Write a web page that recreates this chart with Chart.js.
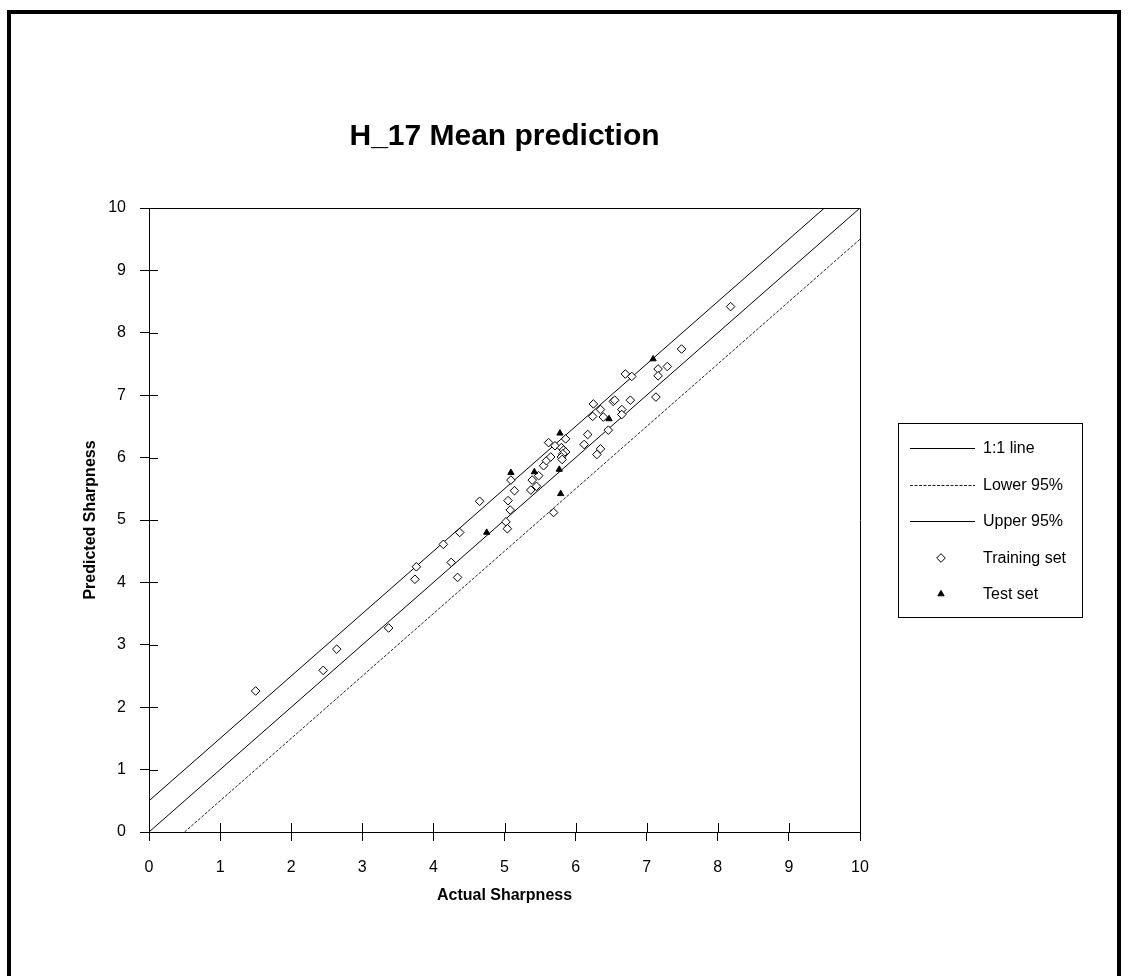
<!DOCTYPE html>
<html><head><meta charset="utf-8">
<script src="https://cdn.jsdelivr.net/npm/chart.js@4/dist/chart.umd.min.js"></script>
<style>
html,body{margin:0;padding:0;background:#fff;width:1128px;height:976px;overflow:hidden}
#frame{position:absolute;left:7px;top:10px;width:1106px;height:990px;border:4px solid #000;border-bottom:none;box-sizing:content-box}
canvas{position:absolute;left:0;top:0}
</style></head><body>
<div id="frame"></div>
<canvas id="c" width="1128" height="976"></canvas>
<script>
// ---- data ----
const chartTitle = 'H_17 Mean prediction';
const xTitle = 'Actual Sharpness';
const yTitle = 'Predicted Sharpness';
const seriesNames = ['1:1 line', 'Lower 95%', 'Upper 95%', 'Training set', 'Test set'];
const axisMin = 0, axisMax = 10, axisStep = 1;

const diagX = [0, 10],   diagY = [0, 10];
const lowerX = [0.5, 10], lowerY = [0, 9.5];
const upperX = [0, 9.5], upperY = [0.5, 10];

const trainX = [1.50,2.45,2.64,3.37,3.74,3.76,4.14,4.25,4.34,4.37,4.65,5.02,5.04,5.05,5.08,5.09,5.14,5.37,5.39,5.45,5.48,5.55,5.59,5.65,5.62,5.71,5.69,5.80,5.83,5.86,5.82,5.80,5.81,5.86,6.12,6.17,6.24,6.25,6.30,6.35,6.35,6.39,6.46,6.53,6.55,6.65,6.65,6.70,6.79,6.77,7.13,7.16,7.16,7.29,7.49,8.18];
const trainY = [2.26,2.59,2.93,3.27,4.05,4.25,4.61,4.32,4.08,4.80,5.30,4.97,4.86,5.31,5.16,5.64,5.47,5.48,5.64,5.54,5.71,5.87,5.95,6.01,6.24,6.19,5.12,6.16,6.12,6.09,6.06,6.01,5.97,6.30,6.21,6.37,6.66,6.86,6.05,6.14,6.77,6.65,6.44,6.90,6.92,6.77,6.69,7.34,7.30,6.92,6.97,7.42,7.31,7.46,7.74,8.42];
const testX = [4.75,5.09,5.42,5.78,5.77,5.79,6.47,7.09];
const testY = [4.80,5.76,5.77,6.39,5.81,5.42,6.62,7.58];

const FONT = '"Liberation Sans", Arial, Helvetica, sans-serif';
const pts = (xs, ys) => xs.map((x, i) => ({x, y: ys[i]}));

// ---- plugins ----
const framePlugin = {
  id: 'frameTicks',
  afterDraw(chart) {
    const {ctx, chartArea: a, scales} = chart;
    ctx.save();
    ctx.strokeStyle = '#000';
    ctx.lineWidth = 1;
    ctx.beginPath();
    ctx.moveTo(Math.round(a.left) + 0.5, Math.round(a.top) + 0.5);
    ctx.lineTo(Math.round(a.right) + 0.5, Math.round(a.top) + 0.5);
    ctx.lineTo(Math.round(a.right) + 0.5, Math.round(a.bottom) + 0.5);
    scales.x.ticks.forEach((t, i) => {
      const px = Math.round(scales.x.getPixelForTick(i)) + 0.5;
      ctx.moveTo(px, Math.round(a.bottom));
      ctx.lineTo(px, Math.round(a.bottom) - 9);
    });
    scales.y.ticks.forEach((t, i) => {
      const py = Math.round(scales.y.getPixelForTick(i)) + 0.5;
      ctx.moveTo(Math.round(a.left), py);
      ctx.lineTo(Math.round(a.left) + 9, py);
    });
    ctx.stroke();

    ctx.fillStyle = '#000';
    ctx.font = 'bold 30px ' + FONT;
    ctx.textAlign = 'center';
    ctx.textBaseline = 'alphabetic';
    ctx.fillText(chartTitle, (a.left + a.right) / 2, 145);
    ctx.restore();
  }
};

function drawMarker(ctx, style, r, x, y, fill, stroke) {
  ctx.beginPath();
  if (style === 'rectRot') {
    ctx.moveTo(x, y - r); ctx.lineTo(x + r, y); ctx.lineTo(x, y + r); ctx.lineTo(x - r, y); ctx.closePath();
  } else if (style === 'triangle') {
    ctx.moveTo(x, y - r);
    ctx.lineTo(x + r * 0.866, y + r * 0.5);
    ctx.lineTo(x - r * 0.866, y + r * 0.5);
    ctx.closePath();
  }
  ctx.fillStyle = fill; ctx.fill();
  ctx.strokeStyle = stroke; ctx.lineWidth = 1; ctx.stroke();
}

const legendPlugin = {
  id: 'boxLegend',
  afterDraw(chart) {
    const {ctx} = chart;
    const bx = 898, by = 423, bw = 184, bh = 194;
    ctx.save();
    ctx.strokeStyle = '#000';
    ctx.lineWidth = 1;
    ctx.strokeRect(bx + 0.5, by + 0.5, bw, bh);
    const rowY = [448, 485, 521, 558, 594];
    ctx.font = '16px ' + FONT;
    ctx.textBaseline = 'middle';
    ctx.textAlign = 'left';
    chart.data.datasets.forEach((ds, i) => {
      const y = rowY[i];
      if (ds.showLine) {
        ctx.beginPath();
        ctx.setLineDash(ds.borderDash || []);
        ctx.strokeStyle = ds.borderColor;
        ctx.lineWidth = ds.borderWidth;
        ctx.moveTo(910, Math.round(y) + 0.5);
        ctx.lineTo(975, Math.round(y) + 0.5);
        ctx.stroke();
        ctx.setLineDash([]);
      } else {
        drawMarker(ctx, ds.pointStyle, ds.pointRadius, 941, y, ds.backgroundColor, ds.borderColor);
      }
      ctx.fillStyle = '#000';
      ctx.fillText(ds.label, 983, y + 1);
    });
    ctx.restore();
  }
};

const lineDs = (label, xs, ys, dash, color) => ({
  label, data: pts(xs, ys), showLine: true, borderColor: color, borderWidth: 1,
  borderDash: dash, pointRadius: 0, fill: false, tension: 0, order: 3
});

new Chart(document.getElementById('c'), {
  type: 'scatter',
  data: {
    datasets: [
      lineDs(seriesNames[0], diagX, diagY, [], '#000'),
      lineDs(seriesNames[1], lowerX, lowerY, [3, 1.5], '#222'),
      lineDs(seriesNames[2], upperX, upperY, [], '#000'),
      { label: seriesNames[3], data: pts(trainX, trainY), pointStyle: 'rectRot', pointRadius: 4.3,
        backgroundColor: '#fff', borderColor: '#000', borderWidth: 1, showLine: false, order: 1 },
      { label: seriesNames[4], data: pts(testX, testY), pointStyle: 'triangle', pointRadius: 3.6,
        backgroundColor: '#000', borderColor: '#000', borderWidth: 1, showLine: false, order: 0 }
    ]
  },
  options: {
    responsive: false, animation: false, devicePixelRatio: 1,
    layout: { padding: { top: 208, left: 77, right: 268, bottom: 67 } },
    plugins: { legend: { display: false }, title: { display: false }, tooltip: { enabled: false } },
    scales: {
      x: {
        type: 'linear', min: axisMin, max: axisMax,
        ticks: { stepSize: axisStep, color: '#000', font: { family: FONT, size: 16 }, padding: 17, maxRotation: 0 },
        grid: { drawOnChartArea: false, drawTicks: true, tickLength: 9, color: '#000', lineWidth: 1 },
        border: { display: true, color: '#000', width: 1 },
        title: { display: true, text: xTitle, color: '#000', font: { family: FONT, size: 16, weight: 'bold' }, padding: { top: 4, bottom: 4 } },
        afterFit(s) { s.height = 77; }
      },
      y: {
        type: 'linear', min: axisMin, max: axisMax,
        ticks: { stepSize: axisStep, color: '#000', font: { family: FONT, size: 16 }, padding: 14 },
        grid: { drawOnChartArea: false, drawTicks: true, tickLength: 9, color: '#000', lineWidth: 1 },
        border: { display: true, color: '#000', width: 1 },
        title: { display: true, text: yTitle, color: '#000', font: { family: FONT, size: 16, weight: 'bold' }, padding: { top: 4, bottom: 4 } },
        afterFit(s) { s.width = 72; }
      }
    }
  },
  plugins: [framePlugin, legendPlugin]
});
</script>
</body></html>
